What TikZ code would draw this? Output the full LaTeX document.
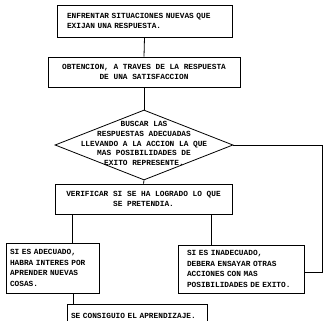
\documentclass[tikz,border=0pt]{standalone}
\usepackage{fontspec}
\setmonofont{Liberation Mono}
\usepackage{tikz}
\usetikzlibrary{shapes.geometric}

\begin{document}
\begin{tikzpicture}[x=1pt, y=-1pt,
  line width=0.8pt,
  every node/.style={font=\ttfamily\bfseries\fontsize{7.8}{10.5}\selectfont},
  caja/.style={draw, rectangle, inner ysep=0pt},
  caja_izq/.style={caja, align=left},
  caja_centro/.style={caja, align=center}]
\useasboundingbox (0, 0) rectangle (325, 321);
\clip (0, 0) rectangle (325, 321);
\node[caja_izq, text width=155pt, inner xsep=10pt, minimum height=32pt] (enfrentar) at (144.5, 21) {ENFRENTAR SITUACIONES NUEVAS QUE\\EXIJAN UNA RESPUESTA.};
\node[caja_centro, minimum width=192pt, minimum height=30pt] (obtencion) at (144, 72) {OBTENCION, A TRAVES DE LA RESPUESTA\\DE UNA SATISFACCION};
\node[draw, diamond, inner sep=0pt, minimum width=178pt, minimum height=70pt] (buscar) at (144, 145) {};
\node[align=center, inner sep=0pt, font=\ttfamily\bfseries\fontsize{7.8}{9.6}\selectfont] (buscar_texto) at (144, 143.5) {BUSCAR LAS\\RESPUESTAS ADECUADAS\\LLEVANDO A LA ACCION LA QUE\\MAS POSIBILIDADES DE\\EXITO REPRESENTE.};
\node[caja_centro, minimum width=177pt, minimum height=30pt] (verificar) at (143.5, 199) {VERIFICAR SI SE HA LOGRADO LO QUE\\SE PRETENDIA.};
\node[caja_izq, text width=85pt, inner xsep=4pt, minimum height=50pt] (adecuado) at (52.5, 268) {SI ES ADECUADO,\\HABRA INTERES POR\\APRENDER NUEVAS\\COSAS.};
\node[caja_izq, text width=108pt, inner xsep=9pt, minimum height=48pt] (inadecuado) at (241, 269) {SI ES INADECUADO,\\DEBERA ENSAYAR OTRAS\\ACCIONES CON MAS\\POSIBILIDADES DE EXITO.};
\node[caja_izq, text width=132pt, inner xsep=4pt, minimum height=24pt] (aprendizaje) at (137, 316) {SE CONSIGUIO EL APRENDIZAJE.};
\coordinate (retorno) at (322, 272);
% conectores
\draw (enfrentar.south) -- (obtencion.north);
\draw (obtencion.south) -- (buscar.north);
\draw (buscar.south) -- (verificar.north);
\draw (buscar.east) -| (retorno) -- (inadecuado.east |- retorno);
\draw ([xshift=19.5pt]adecuado.north) -- ([xshift=19.5pt]adecuado.north |- verificar.south);
\draw ([xshift=-30pt]inadecuado.north) -- ([xshift=-30pt]inadecuado.north |- verificar.south);
\draw ([xshift=20.5pt]adecuado.south) -- ([xshift=20.5pt]adecuado.south |- aprendizaje.north);
\end{tikzpicture}
\end{document}
